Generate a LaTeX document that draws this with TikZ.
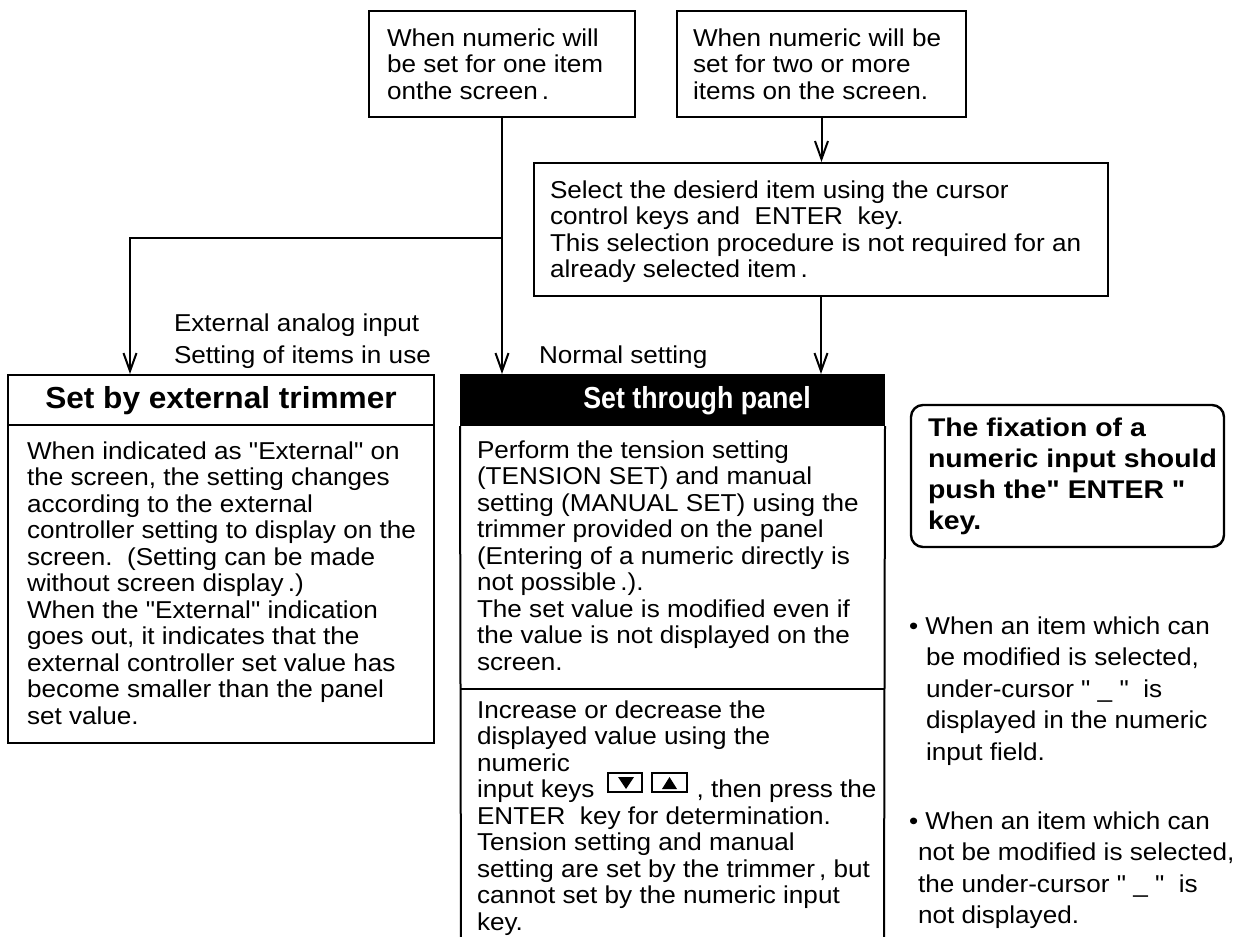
\documentclass[tikz,border=0pt]{standalone}
\usepackage{fontspec}
\setmainfont{Liberation Sans}[FakeStretch=1.07,Ligatures=TeXOff]
\newfontfamily\headA{Liberation Sans}[FakeStretch=1.04]
\newfontfamily\headB{Liberation Sans}[FakeStretch=0.88]
\newfontfamily\notef{Liberation Sans}[FakeStretch=1.11,Ligatures=TeXOff]
\usetikzlibrary{arrows.meta,fit}
\begin{document}
\begin{tikzpicture}[x=0.5pt,y=-0.5pt,line width=1pt,
  frame/.style={draw=black,line width=1pt,inner sep=0pt},
  txt/.style={anchor=north west,inner sep=0pt,align=left,font=\fontsize{12.2pt}{13.25pt}\selectfont,yshift=9.275pt},
  wide/.style={anchor=north west,inner sep=0pt,align=left,font=\fontsize{12.2pt}{15.75pt}\selectfont,yshift=11.025pt},
  notetxt/.style={anchor=north west,inner sep=0pt,align=left,font=\notef\bfseries\fontsize{12.8pt}{15.5pt}\selectfont,yshift=10.85pt},
  arr/.style={-{Straight Barb[length=9pt,width=6.5pt]},line width=1pt},
  keybox/.style={draw=black,line width=0.7pt,fill=white},
  tri/.style={fill=black}]
\useasboundingbox (0,0) rectangle (1244,937);
\fill[white] (0,0) rectangle (1244,937);

% top boxes
\node[frame,fit={(369,11) (635,117)}] (boxA) {};
\node[txt] (tA) at (386,45) {\strut When numeric will\\be set for one item\\onthe screen\,.};
\node[frame,fit={(677,11) (966,117)}] (boxB) {};
\node[txt] (tB) at (692,45) {\strut When numeric will be\\set for two or more\\items on the screen.};
\node[frame,fit={(534,163) (1108,296)}] (boxC) {};
\node[txt] (tC) at (549,197) {\strut Select the desierd item using the cursor\\control keys and\ \ ENTER\ \ key.\\This selection procedure is not required for an\\already selected item\,.};

% left box
\node[frame,fit={(8,375) (434,425)}] (lefthead) {};
\node[frame,fit={(8,425) (434,743)}] (leftbody) {};
\node[anchor=base,inner sep=0pt,font=\headA\bfseries\fontsize{15.2pt}{16pt}\selectfont] (lht) at (221,408) {Set by external trimmer};
\node[txt] (lbt) at (26,458) {\strut When indicated as "External" on\\the screen, the setting changes\\according to the external\\controller setting to display on the\\screen.\ \ (Setting can be made\\without screen display\,.)\\When the "External" indication\\goes out, it indicates that the\\external controller set value has\\become smaller than the panel\\set value.};

% middle box
\node[frame,fill=black,fit={(461,375) (884,425)}] (midhead) {};
\node[anchor=base,inner sep=0pt,text=white,font=\headB\bfseries\fontsize{15.2pt}{16pt}\selectfont] (mht) at (697,408) {Set through panel};
\coordinate (mbl) at (461,945);
\coordinate (mbr) at (884,945);
\coordinate (mdl) at (461,689);
\coordinate (mdr) at (884,689);
\draw[line width=1pt] (midhead.south west) -- (mbl);
\draw[line width=1pt] (midhead.south east) -- (mbr);
\draw[line width=1pt] (mdl) -- (mdr);
\node[txt] (mb1) at (476,457) {\strut Perform the tension setting\\(TENSION SET) and manual\\setting (MANUAL SET) using the\\trimmer provided on the panel\\(Entering of a numeric directly is\\not possible\,.).\\The set value is modified even if\\the value is not displayed on the\\screen.};
\node[txt] (mb2) at (476,717) {\strut Increase or decrease the\\displayed value using the\\numeric\\input keys\hspace*{51pt}, then press the\\ENTER\ \ key for determination.\\Tension setting and manual\\setting are set by the trimmer\,, but\\cannot set by the numeric input\\key.};
% key icons
\draw[keybox] (608,773) rectangle (642,792);
\fill[tri] (618,777) -- (634,777) -- (626,789) -- cycle;
\draw[keybox] (652,773) rectangle (687,792);
\fill[tri] (662,789) -- (677,789) -- (669.5,777) -- cycle;

% labels
\node[wide,font=\fontsize{12.2pt}{16pt}\selectfont,yshift=0.175pt] (lab1) at (173,330) {\strut External analog input\\Setting of items in use};
\node[txt] (lab2) at (538,362) {\strut Normal setting};

% connectors
\coordinate (jn) at (502,238);
\coordinate (lx) at (130,238);
\draw[arr] (boxA.south) -- (boxA.south |- midhead.north);
\draw[arr] (jn) -| (lx |- lefthead.north);
\draw[arr] (boxB.south) -- (boxB.south |- boxC.north);
\draw[arr] (boxC.south) -- (boxC.south |- midhead.north);

% note
\node[draw=black,line width=1.2pt,rounded corners=6pt,inner sep=0pt,fit={(911,405) (1224,547)}] (note) {};
\node[notetxt] (nt) at (927,435) {\strut The fixation of a\\numeric input should\\push the" ENTER "\\key.};

% bullets
\node[wide] (bul1) at (908,633) {\strut\textbullet\ When an item which can\\\hspace*{8.5pt}be modified is selected,\\\hspace*{8.5pt}under-cursor " \_ "\ \ is\\\hspace*{8.5pt}displayed in the numeric\\\hspace*{8.5pt}input field.};
\node[wide] (bul2) at (908,828) {\strut\textbullet\ When an item which can\\\hspace*{4.5pt}not be modified is selected,\\\hspace*{4.5pt}the under-cursor " \_ "\ \ is\\\hspace*{4.5pt}not displayed.};
\end{tikzpicture}
\end{document}
